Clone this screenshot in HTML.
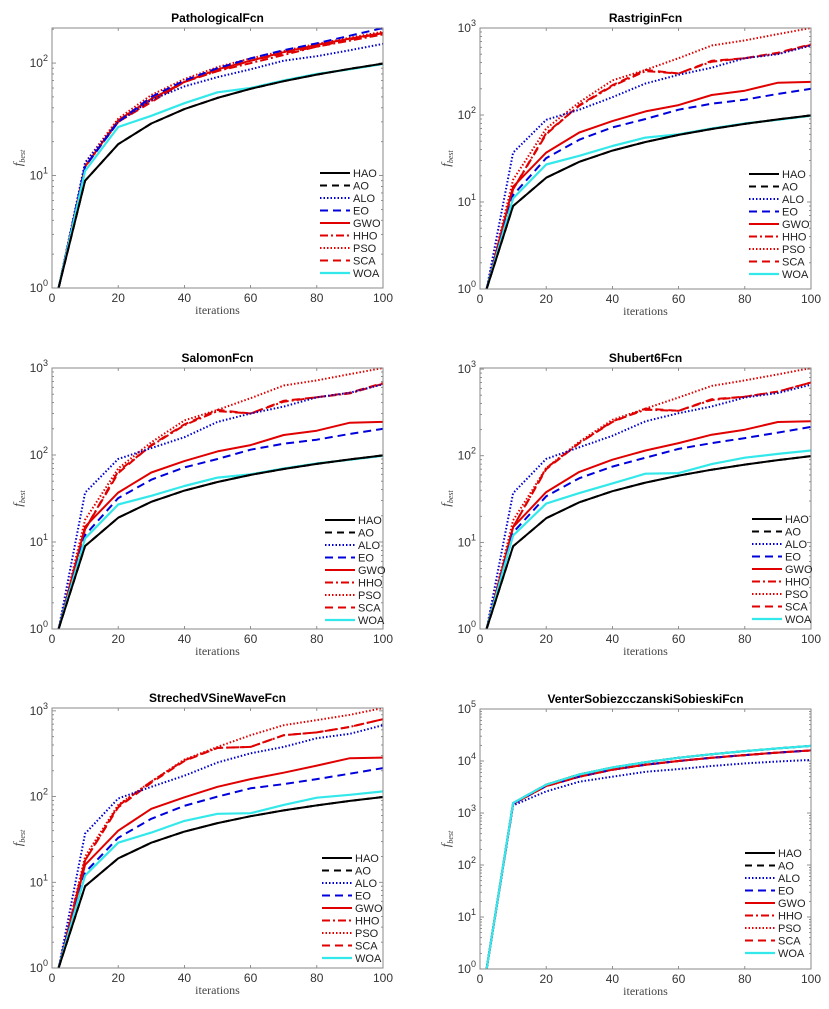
<!DOCTYPE html>
<html><head><meta charset="utf-8">
<style>
html,body{margin:0;padding:0;background:#fff;}
svg{display:block;font-family:"Liberation Sans",sans-serif;}
</style></head>
<body>
<svg id="fig" width="829" height="1009" viewBox="0 0 829 1009" xmlns="http://www.w3.org/2000/svg"></svg>
<script>
const iters = [2,10,20,30,40,50,60,70,80,90,100];
const seriesNames = ["HAO","AO","ALO","EO","GWO","HHO","PSO","SCA","WOA"];
const xTicks = [0,20,40,60,80,100];

const hao = [1,9,19,29,39,49,59,69,79,89,99];
// Pathological
const pathALO = [1,13,30,47,62,75,88,105,115,130,148];
const pathEO  = [1,12,30,50,70,90,110,130,150,175,205];
const pathGWO = [1,12,31,48,68,88,105,125,145,165,185];
const pathHHO = [1,12,30,46,68,85,100,118,140,158,180];
const pathPSO = [1,13,32,52,72,92,110,128,148,168,190];
const pathSCA = [1,12,30,45,68,85,105,122,140,162,185];
const pathWOA = [1,11,27,34,44,55,60,70,80,88,98];
// Rastrigin
const rasALO = [1,37,88,115,160,230,290,350,450,500,630];
const rasEO  = [1,12,32,52,72,90,115,135,150,175,200];
const rasGWO = [1,15,37,63,85,110,130,170,190,235,240];
const rasHHO = [1,14,62,128,215,320,300,410,450,510,640];
const rasPSO = [1,18,70,140,250,330,450,630,720,850,1000];
const rasSCA = [1,14,60,130,220,330,300,420,450,520,650];
const rasWOA = [1,11,27,34,44,55,60,70,80,88,98];
// Salomon
const salALO = [1,37,90,120,160,240,300,360,460,520,650];
const salEO  = [1,12,32,52,72,90,115,135,150,175,200];
const salGWO = [1,15,37,63,85,110,130,170,190,235,240];
const salHHO = [1,14,65,128,220,320,300,410,460,510,660];
const salPSO = [1,18,70,140,250,330,450,630,720,850,1000];
const salSCA = [1,14,62,130,225,330,300,420,460,520,670];
const salWOA = [1,11,27,34,44,55,60,70,80,88,98];
// Shubert6
const shuALO = [1,37,92,125,170,250,310,370,470,530,660];
const shuEO  = [1,13,34,55,75,95,120,140,160,185,215];
const shuGWO = [1,15,38,65,90,115,140,175,200,245,250];
const shuHHO = [1,15,72,140,250,340,330,440,480,550,700];
const shuPSO = [1,18,72,145,260,350,470,640,740,870,1030];
const shuSCA = [1,15,70,140,245,350,330,450,480,550,700];
const shuWOA = [1,12,28,37,48,62,63,80,95,105,115];
// StrechedVSineWave
const strALO = [1,37,95,130,175,250,320,380,480,540,680];
const strEO  = [1,13,33,55,78,100,125,140,160,185,215];
const strGWO = [1,16,40,72,98,130,160,190,230,280,285];
const strHHO = [1,18,78,150,265,370,380,520,560,650,800];
const strPSO = [1,20,80,150,270,380,520,680,780,900,1080];
const strSCA = [1,18,75,145,260,370,380,520,560,650,800];
const strWOA = [1,12,29,38,52,63,64,80,97,105,115];
// Venter
const venHAO = [1,1550,3500,5500,7500,9500,11500,13500,15500,17500,19500];
const venALO = [1,1400,2600,4000,5000,6200,7000,8000,9000,9800,10500];
const venRED = [1,1500,3300,5000,6800,8500,10000,11500,13000,14500,16000];

const styles = {
  HAO:{c:"#000",w:2,d:""}, AO:{c:"#000",w:2,d:"7,5"},
  ALO:{c:"#0000cc",w:2,d:"1.5,2"}, EO:{c:"#0000dd",w:2,d:"8,5"},
  GWO:{c:"#e00000",w:2,d:""}, HHO:{c:"#e00000",w:2,d:"8,3,2,3"},
  PSO:{c:"#e00000",w:2,d:"1.5,2"}, SCA:{c:"#e00000",w:2,d:"8,5"},
  WOA:{c:"#33e8ea",w:2.2,d:""}
};

const defOrder=["GWO","HHO","PSO","SCA","ALO","EO","WOA","HAO","AO"];
const venOrder=["HAO","AO","GWO","PSO","SCA","EO","HHO","ALO","WOA"];

const panels = [
 {name:"PathologicalFcn", L:52,R:383,T:28,B:288, ymax:205, order:defOrder,
  data:{HAO:hao,AO:hao,ALO:pathALO,EO:pathEO,GWO:pathGWO,HHO:pathHHO,PSO:pathPSO,SCA:pathSCA,WOA:pathWOA}, legX:320, legY:173},
 {name:"RastriginFcn", L:480,R:811,T:28,B:289, ymax:1000, order:defOrder,
  data:{HAO:hao,AO:hao,ALO:rasALO,EO:rasEO,GWO:rasGWO,HHO:rasHHO,PSO:rasPSO,SCA:rasSCA,WOA:rasWOA}, legX:749, legY:174},
 {name:"SalomonFcn", L:52,R:383,T:368,B:629, ymax:1000, order:defOrder,
  data:{HAO:hao,AO:hao,ALO:salALO,EO:salEO,GWO:salGWO,HHO:salHHO,PSO:salPSO,SCA:salSCA,WOA:salWOA}, legX:325, legY:520},
 {name:"Shubert6Fcn", L:480,R:811,T:368,B:629, ymax:1030, order:defOrder,
  data:{HAO:hao,AO:hao,ALO:shuALO,EO:shuEO,GWO:shuGWO,HHO:shuHHO,PSO:shuPSO,SCA:shuSCA,WOA:shuWOA}, legX:752, legY:519},
 {name:"StrechedVSineWaveFcn", L:52,R:383,T:708,B:968, ymax:1080, order:defOrder,
  data:{HAO:hao,AO:hao,ALO:strALO,EO:strEO,GWO:strGWO,HHO:strHHO,PSO:strPSO,SCA:strSCA,WOA:strWOA}, legX:322, legY:858},
 {name:"VenterSobiezcczanskiSobieskiFcn", L:480,R:811,T:709,B:969, ymax:100000, order:venOrder,
  data:{HAO:venHAO,AO:venHAO,ALO:venALO,EO:venRED,GWO:venRED,HHO:venRED,PSO:venRED,SCA:venRED,WOA:venHAO}, legX:745, legY:853}
];

const NS="http://www.w3.org/2000/svg";
const svg=document.getElementById('fig');
function mk(tag,attrs,parent){const e=document.createElementNS(NS,tag);for(const k in attrs)e.setAttribute(k,attrs[k]);(parent||svg).appendChild(e);return e;}

panels.forEach((p,pi)=>{
  const g=mk('g',{});
  
  
  const lmax=Math.log10(p.ymax);
  const xs=v=>p.L+(v/100)*(p.R-p.L);
  const ys=v=>p.B-(Math.log10(v)/lmax)*(p.B-p.T);
  const tk=mk('g',{stroke:"#777","stroke-width":0.8},g);
  
  
  xTicks.forEach(t=>{
    const x=xs(t);
    mk('line',{x1:x,y1:p.B,x2:x,y2:p.B-3},tk);
    mk('line',{x1:x,y1:p.T,x2:x,y2:p.T+3},tk);
    const lb=mk('text',{x:x,y:p.B+14,"text-anchor":"middle","font-size":"12","fill":"#333",stroke:"none"},g);
    lb.textContent=t;
    
    
  });
  for(let d=0;d<=Math.ceil(lmax);d++){
    for(let m=1;m<10;m++){
      const v=m*Math.pow(10,d); if(v>p.ymax*1.001)break;
      const y=ys(v); const len=m===1?4:2;
      mk('line',{x1:p.L,y1:y,x2:p.L+len,y2:y},tk);
      mk('line',{x1:p.R,y1:y,x2:p.R-len,y2:y},tk);
    }
    if(Math.pow(10,d)<=p.ymax*1.02){
      const lb=mk('text',{x:p.L-4,y:ys(Math.pow(10,d))+4,"text-anchor":"end","font-size":"12","fill":"#333"},g);
      
      
      const a=document.createElementNS(NS,'tspan');a.textContent="10";lb.appendChild(a);
      const s=document.createElementNS(NS,'tspan');s.setAttribute('dy','-6');s.setAttribute('font-size','9');s.textContent=d;lb.appendChild(s);
    }
  }
  p.order.forEach(n=>{
    const st=styles[n]; const vals=p.data[n];
    const d=vals.map((v,i)=>(i?'L':'M')+xs(iters[i]).toFixed(1)+','+ys(v).toFixed(1)).join(' ');
    const path=mk('path',{d:d,fill:"none",stroke:st.c,"stroke-width":st.w,"stroke-dasharray":st.d,"stroke-linejoin":"round"},g);
    
    
  });
  const fr=mk('rect',{x:p.L,y:p.T,width:p.R-p.L,height:p.B-p.T,fill:"none",stroke:"#888","stroke-width":1},g);
  
  
  const ti=mk('text',{x:(p.L+p.R)/2,y:p.T-6,"text-anchor":"middle","font-size":"12","font-weight":"bold"},g);
  ti.textContent=p.name;
  
  
  const xl=mk('text',{x:(p.L+p.R)/2,y:p.B+26,"text-anchor":"middle","font-size":"12","fill":"#444","font-family":"Liberation Serif, serif"},g);
  xl.textContent="iterations";
  
  
  const cy=(p.T+p.B)/2;
  const yl=mk('text',{x:0,y:0,transform:`translate(${p.L-30},${cy}) rotate(-90)`,"text-anchor":"middle","font-size":"13","fill":"#444","font-family":"Liberation Serif, serif","font-style":"italic"},g);
  
  
  const f=document.createElementNS(NS,'tspan');f.textContent="f";yl.appendChild(f);
  const sb=document.createElementNS(NS,'tspan');sb.setAttribute('dy','3');sb.setAttribute('font-size','8');sb.textContent="best";yl.appendChild(sb);
  const lg=mk('g',{},g);
  
  
  seriesNames.forEach((n,i)=>{
    const st=styles[n]; const y=p.legY+i*12.5;
    const e=mk('g',{},lg);
    
    
    mk('line',{x1:p.legX,y1:y,x2:p.legX+30,y2:y,stroke:st.c,"stroke-width":st.w,"stroke-dasharray":st.d},e);
    const t=mk('text',{x:p.legX+33,y:y+4,"font-size":"11","fill":"#222"},e);
    t.textContent=n;
  });
});
</script>
</body></html>
